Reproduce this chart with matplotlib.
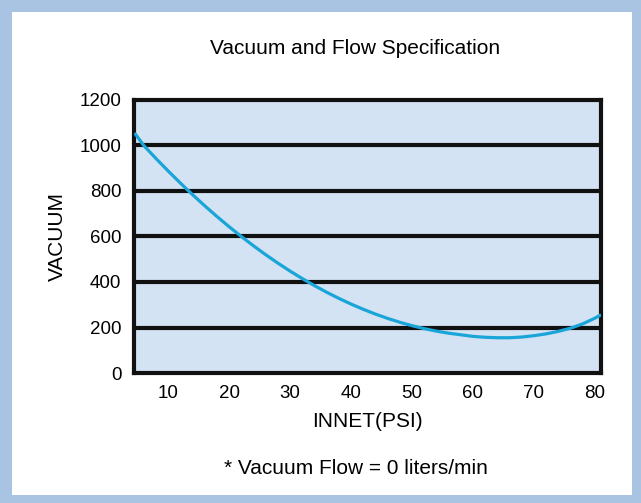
import numpy as np
import matplotlib.pyplot as plt
from matplotlib.patches import Rectangle

plt.rcParams['font.family'] = ['Liberation Sans', 'DejaVu Sans']

# values
psi = [4.5, 6, 8, 10, 12, 14, 16, 18, 20, 22, 24, 26, 28, 30, 32, 34, 36, 38, 40,
       42, 44, 46, 48, 50, 52, 54, 56, 58, 60, 62, 64, 66, 68, 70, 72, 74, 76, 78, 80, 81]
vacuum = [1055, 1000, 943, 888, 835, 784, 735, 688, 643, 600, 559, 520, 483, 448, 415, 384, 355, 328, 303,
          280, 259, 240, 223, 208, 195, 184, 175, 168, 161, 157, 155, 155, 158, 164, 172, 183, 197, 216, 241, 256]
xticks = [10, 20, 30, 40, 50, 60, 70, 80]
yticks = [0, 200, 400, 600, 800, 1000, 1200]

fig = plt.figure(figsize=(6.41, 5.03), dpi=100)
fig.patch.set_facecolor('#a9c3e2')
fig.patches.append(Rectangle((12 / 641, 8 / 503), 620 / 641, 483 / 503, transform=fig.transFigure,
                             facecolor='white', edgecolor='none', zorder=-5))

ax = fig.add_axes([134 / 641, 130 / 503, 467 / 641, 273 / 503])
ax.set_facecolor('#d3e3f4')
ax.plot(psi, vacuum, color='#1aa5d8', lw=2.3, zorder=3, solid_capstyle='butt')
ax.set_xlim(4.4, 81)
ax.set_ylim(0, 1200)
ax.set_xticks(xticks)
ax.set_yticks(yticks)
ax.tick_params(length=0, labelsize=13.5, pad=9)
for y in yticks[1:-1]:
    ax.axhline(y, color='#111111', lw=3, zorder=2)
for s in ax.spines.values():
    s.set_linewidth(3)
    s.set_color('#111111')

ax.set_ylabel('VACUUM', fontsize=15, labelpad=9)
ax.set_xlabel('INNET(PSI)', fontsize=15, labelpad=7)
fig.text(355 / 641, 1 - 48 / 503, 'Vacuum and Flow Specification', ha='center', va='center', fontsize=15)
fig.text(356 / 641, 1 - 468 / 503, '* Vacuum Flow = 0 liters/min', ha='center', va='center', fontsize=15)

fig.savefig('out.png', dpi=100, facecolor=fig.get_facecolor())
